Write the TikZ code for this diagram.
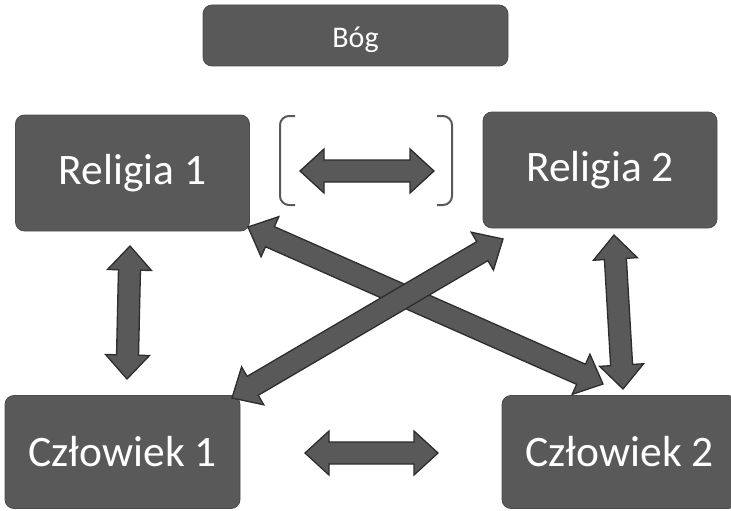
\documentclass[tikz,border=0pt]{standalone}
\usepackage{fontspec}
\setmainfont{Carlito}
\usetikzlibrary{calc}
\definecolor{boxgray}{RGB}{89,89,89}
\definecolor{edgegray}{RGB}{45,45,45}
\tikzset{
  block/.style={rectangle, rounded corners=9pt, fill=boxgray, draw=boxgray!85!black, thick, text=white, inner sep=0pt, font=\fontsize{43.5}{50}\selectfont},
  small/.style={font=\fontsize{30}{36}\selectfont},
  fat/.style={fill=boxgray, draw=edgegray, line width=1.3pt, line join=miter},
  brack/.style={draw=boxgray, line width=2pt, rounded corners=9pt}
}
\def\arrhead{24pt}
\def\arrwide{22pt}
\def\arrshaft{11pt}
\newcommand{\fatarrow}[2]{%
  \draw[fat] (#1)
    -- ($($(#1)!\arrhead!(#2)$)!\arrwide!90:(#2)$)
    -- ($($(#1)!\arrhead!(#2)$)!\arrshaft!90:(#2)$)
    -- ($($(#2)!\arrhead!(#1)$)!\arrshaft!-90:(#1)$)
    -- ($($(#2)!\arrhead!(#1)$)!\arrwide!-90:(#1)$)
    -- (#2)
    -- ($($(#2)!\arrhead!(#1)$)!\arrwide!90:(#1)$)
    -- ($($(#2)!\arrhead!(#1)$)!\arrshaft!90:(#1)$)
    -- ($($(#1)!\arrhead!(#2)$)!\arrshaft!-90:(#2)$)
    -- ($($(#1)!\arrhead!(#2)$)!\arrwide!-90:(#2)$)
    -- cycle;}

\begin{document}
\begin{tikzpicture}[x=1pt, y=-1pt]
    \useasboundingbox (0,0) rectangle (731,511);
    \node[block, minimum width=305pt, minimum height=61pt] (God) at (355.5,35.5) {};
    \node[small, text=white] (GodText) at (355.5,40) {Bóg};
    \node[block, minimum width=234pt, minimum height=116pt] (Rel1) at (132.5,173) {Religia 1};
    \node[block, minimum width=234pt, minimum height=116pt] (Rel2) at (600,170) {Religia 2};
    \node[block, minimum width=235pt, minimum height=113pt] (Man1) at (122.5,452) {Człowiek 1};
    \node[block, minimum width=235pt, minimum height=113pt] (Man2) at (619.5,452) {Człowiek 2};

    % brackets round the upper arrow
    \draw[brack] (295,116) -- (280,116) -- (280,205) -- (295,205);
    \draw[brack] (437,116) -- (452,116) -- (452,205) -- (437,205);

    % arrow ends
    \coordinate (t1) at (300,171);
    \coordinate (t2) at (434,171);
    \coordinate (b1) at (305,453);
    \coordinate (b2) at (438,453);
    \coordinate (l1) at (130,246);
    \coordinate (l2) at (127,379);
    \coordinate (r1) at (614,235);
    \coordinate (r2) at (623,389);
    \coordinate (d1) at (248,227);
    \coordinate (d2) at (603,384);
    \coordinate (e1) at (232,398);
    \coordinate (e2) at (503,239);

    \fatarrow{t1}{t2}
    \fatarrow{b1}{b2}
    \fatarrow{l1}{l2}
    \fatarrow{d1}{d2}
    \fatarrow{e1}{e2}
    \fatarrow{r1}{r2}
\end{tikzpicture}
\end{document}
